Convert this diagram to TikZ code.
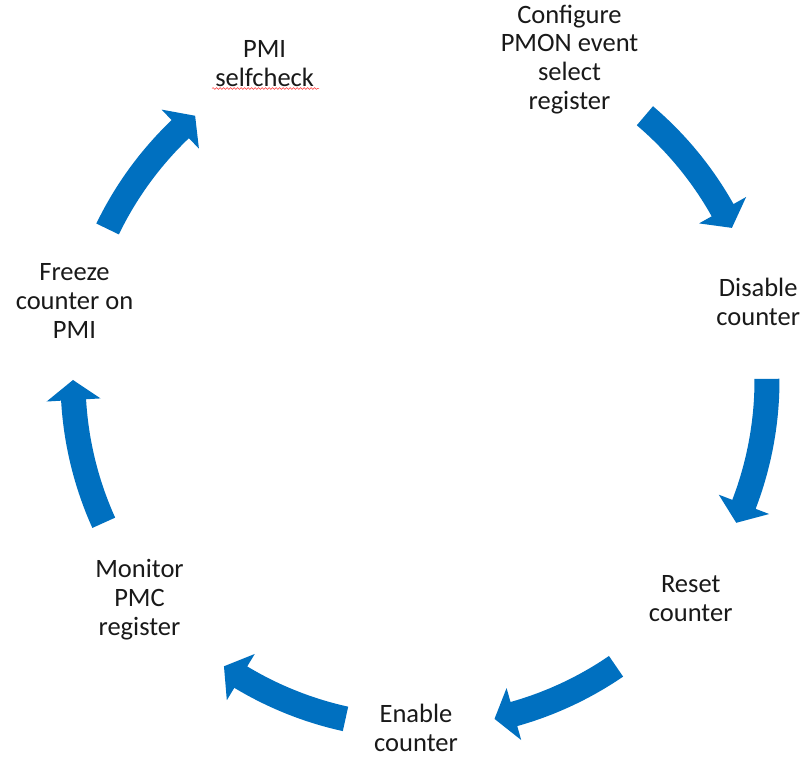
\documentclass[tikz,border=0pt]{standalone}
\usepackage{fontspec}
\setmainfont{Carlito}
\usetikzlibrary{decorations.pathmorphing}
\definecolor{arrowblue}{RGB}{0,112,192}
\newcommand\cyclearrow[2]{%
  \pgfmathsetmacro\hbase{#2+3.3}%
  \fill[arrowblue] (#1:359.5) arc[start angle=#1, end angle=\hbase, radius=359.5]
    -- (\hbase:374) -- (#2:347) -- (\hbase:320) -- (\hbase:334.5)
    arc[start angle=\hbase, end angle=#1, radius=334.5] -- cycle;
}
\newcommand\lbltext[1]{\begin{tabular}{@{}c@{}}#1\end{tabular}}
\tikzset{
  lbl/.style={anchor=north, inner sep=0pt, font=\fontsize{26.5}{28.7}\selectfont, text=black!90},
}
\begin{document}
\begin{tikzpicture}[x=1pt,y=1pt]
\useasboundingbox (0,0) rectangle (806,758);
\fill[white] (0,0) rectangle (806,758);
% labels
\node[lbl] (pmi) at (264.6,720.4) {\lbltext{PMI\\selfcheck}};
\node[lbl] (config) at (569.5,755.0) {\lbltext{Configure\\PMON event\\select\\register}};
\node[lbl] (disable) at (758.2,481.6) {\lbltext{Disable\\counter}};
\node[lbl] (reset) at (690.7,185.3) {\lbltext{Reset\\counter}};
\node[lbl] (enable) at (416,55.4) {\lbltext{Enable\\counter}};
\node[lbl] (monitor) at (139.5,200.3) {\lbltext{Monitor\\PMC\\register}};
\node[lbl] (freeze) at (74.5,497.6) {\lbltext{Freeze\\counter on\\PMI}};
% spell-check squiggle
\coordinate (sqA) at (212,669.5);
\coordinate (sqB) at (319,669.5);
\draw[red!80, line width=0.5pt, decorate, decoration={snake, segment length=3.5pt, amplitude=0.9pt}] (sqA) -- (sqB);
% cycle arrows
\begin{scope}[shift={(420,378)}]
\cyclearrow{49.6}{26.0}
\cyclearrow{0.2}{-24.3}
\cyclearrow{-55.6}{-77.6}
\cyclearrow{-102.4}{-124.4}
\cyclearrow{-155.7}{-180}
\cyclearrow{154.2}{130.4}
\end{scope}
\end{tikzpicture}
\end{document}
